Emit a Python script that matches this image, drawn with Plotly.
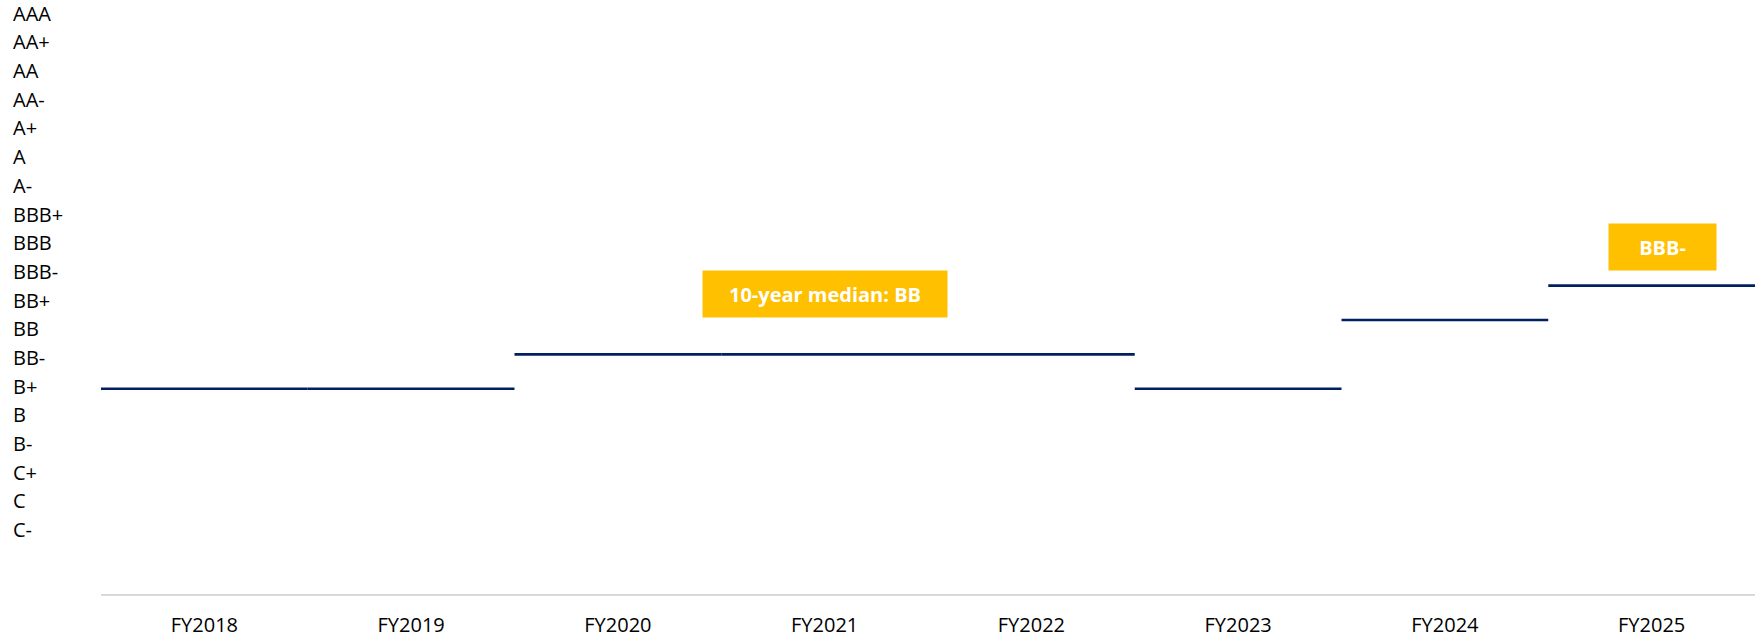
import plotly.graph_objects as go

# Rating scale, lowest to highest
ratings = ["C-", "C", "C+", "B-", "B", "B+", "BB-", "BB", "BB+",
           "BBB-", "BBB", "BBB+", "A-", "A", "A+", "AA-", "AA", "AA+", "AAA"]

years = ["FY2018", "FY2019", "FY2020", "FY2021", "FY2022",
         "FY2023", "FY2024", "FY2025"]
year_ratings = ["BB-", "BB-", "BB", "BB", "BB", "BB-", "BB+", "BBB-"]

median_rating = "BB"
median_label = f"10-year median: {median_rating}"
median_year = "FY2021"
latest_year = years[-1]
latest_rating = year_ratings[-1]

LINE_COLOR = "#002060"
BOX_COLOR = "#FFC000"
FONT = "Open Sans"

W, H = 1758, 640
ML, MR, MT, MB = 0, 3, 0, 46
plot_w = W - ML - MR

rank = {r: i for i, r in enumerate(ratings)}

# one flat segment per fiscal year, spanning the full category width
seg_x, seg_y = [], []
for i, r in enumerate(year_ratings):
    v = rank[r]
    seg_x += [i - 0.5, i + 0.5, None]
    seg_y += [v, v, None]

fig = go.Figure()
fig.add_trace(go.Scatter(
    x=seg_x, y=seg_y, mode="lines",
    line=dict(color=LINE_COLOR, width=2.6),
    hoverinfo="skip", showlegend=False, yaxis="y",
))

# invisible trace so the rating-label axis renders
fig.add_trace(go.Scatter(
    x=[None], y=[None], mode="markers", yaxis="y2",
    showlegend=False, hoverinfo="skip",
))

fig.add_annotation(
    x=years.index(median_year), y=rank[median_rating],
    xref="x", yref="y", text=f"<b>{median_label}</b>",
    showarrow=False, xanchor="center", yanchor="bottom",
    yshift=36, width=244, height=46, borderpad=0,
    bgcolor=BOX_COLOR, font=dict(family=FONT, size=20, color="white"),
)
fig.add_annotation(
    x=years.index(latest_year), y=rank[latest_rating],
    xref="x", yref="y", text=f"<b>{latest_rating}</b>",
    showarrow=False, xanchor="center", yanchor="bottom",
    xshift=11, yshift=15, width=107, height=46, borderpad=0,
    bgcolor=BOX_COLOR, font=dict(family=FONT, size=20, color="white"),
)

fig.update_layout(
    width=W, height=H,
    margin=dict(l=ML, r=MR, t=MT, b=MB, autoexpand=False),
    paper_bgcolor="white", plot_bgcolor="white",
    font=dict(family=FONT, size=20, color="#000000"),
    xaxis=dict(
        domain=[101 / plot_w, 1],
        range=[-0.5, len(years) - 0.5],
        tickmode="array", tickvals=list(range(len(years))), ticktext=years,
        showgrid=False, zeroline=False,
        showline=True, linecolor="#D9D9D9", linewidth=2,
        ticks="", ticklabelstandoff=12,
        tickfont=dict(family=FONT, size=20, color="#000000"),
        fixedrange=True,
    ),
    yaxis=dict(
        range=[0.02, 17.32], visible=False, fixedrange=True,
    ),
    yaxis2=dict(
        overlaying="y", anchor="free", position=0, side="left",
        range=[-2.23, 18.48],
        tickmode="array", tickvals=list(range(len(ratings))), ticktext=ratings,
        ticklabelposition="inside", ticklabelstandoff=9,
        ticklabeloverflow="allow",
        showgrid=False, zeroline=False, showline=False, ticks="",
        tickfont=dict(family=FONT, size=20, color="#000000"),
        fixedrange=True,
    ),
)

fig.write_html("out.html")
